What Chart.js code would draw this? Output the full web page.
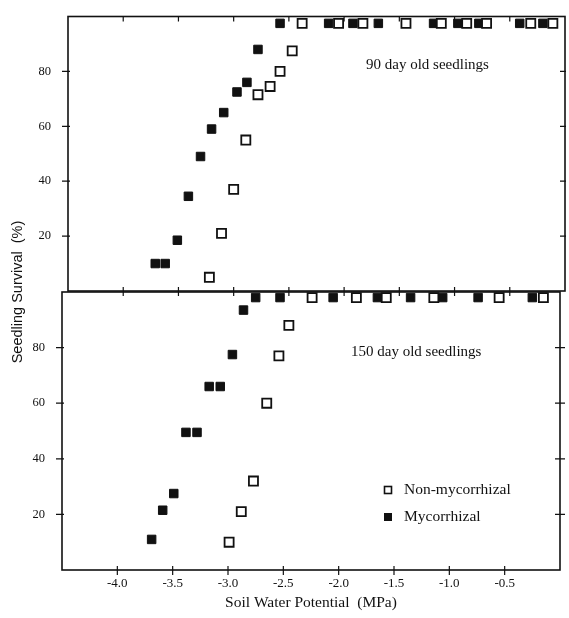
<!DOCTYPE html>
<html>
<head>
<meta charset="utf-8">
<script src="https://cdn.jsdelivr.net/npm/chart.js@4.4.1/dist/chart.umd.min.js"></script>
<style>
  body { margin: 0; background: #fff; }
  #wrap { position: relative; width: 569px; height: 618px; }
  canvas { position: absolute; left: 0; top: 0; }
</style>
</head>
<body>
<div id="wrap">
  <canvas id="top90" width="569" height="618"></canvas>
  <canvas id="bottom150" width="569" height="618"></canvas>
</div>
<script>
// axis ticks (both panels)
const xTicks = [-4.0, -3.5, -3.0, -2.5, -2.0, -1.5, -1.0, -0.5];
const yTicks = [20, 40, 60, 80];

// 90 day old seedlings
const open90X = [-3.22, -3.11, -3.00, -2.89, -2.78, -2.67, -2.58, -2.47, -2.38, -2.05, -1.83, -1.44, -1.12, -0.89, -0.71, -0.31, -0.11];
const open90Y = [5, 21, 37, 55, 71.5, 74.5, 80, 87.5, 97.5, 97.5, 97.5, 97.5, 97.5, 97.5, 97.5, 97.5, 97.5];
const fill90X = [-3.71, -3.62, -3.51, -3.41, -3.30, -3.20, -3.09, -2.97, -2.88, -2.78, -2.58, -2.14, -1.92, -1.69, -1.19, -0.97, -0.78, -0.41, -0.20];
const fill90Y = [10, 10, 18.5, 34.5, 49, 59, 65, 72.5, 76, 88, 97.5, 97.5, 97.5, 97.5, 97.5, 97.5, 97.5, 97.5, 97.5];

// 150 day old seedlings
const open150X = [-2.99, -2.88, -2.77, -2.65, -2.54, -2.45, -2.24, -1.84, -1.57, -1.14, -0.55, -0.15];
const open150Y = [10, 21, 32, 60, 77, 88, 98, 98, 98, 98, 98, 98];
const fill150X = [-3.69, -3.59, -3.49, -3.38, -3.28, -3.17, -3.07, -2.96, -2.86, -2.75, -2.53, -2.05, -1.65, -1.35, -1.06, -0.74, -0.25];
const fill150Y = [11, 21.5, 27.5, 49.5, 49.5, 66, 66, 77.5, 93.5, 98, 98, 98, 98, 98, 98, 98, 98];

const seriesNames = ['Non-mycorrhizal', 'Mycorrhizal'];

const ink = '#111';
const serif = '"Liberation Serif", "Times New Roman", serif';

function pts(xs, ys) {
    return xs.map((x, i) => ({ x: x, y: ys[i] }));
}

function openSet(xs, ys) {
    return {
        label: seriesNames[0],
        data: pts(xs, ys),
        pointStyle: 'rect',
        pointRadius: 6.4,
        pointBorderWidth: 1.8,
        pointBackgroundColor: '#fff',
        pointBorderColor: ink,
        showLine: false,
        clip: false
    };
}

function fillSet(xs, ys) {
    return {
        label: seriesNames[1],
        data: pts(xs, ys),
        pointStyle: 'rect',
        pointRadius: 6,
        pointBorderWidth: 1,
        pointBackgroundColor: ink,
        pointBorderColor: ink,
        showLine: false,
        clip: false
    };
}

// draws the box and the crossing tick marks
const framePlugin = {
    id: 'frame',
    beforeDatasetsDraw(chart, args, opts) {
        const ctx = chart.ctx;
        const a = chart.chartArea;
        const x = chart.scales.x, y = chart.scales.y;
        ctx.save();
        ctx.strokeStyle = ink;
        ctx.lineWidth = 1.6;
        ctx.strokeRect(a.left, a.top, a.right - a.left, a.bottom - a.top);
        ctx.lineWidth = 1.2;
        ctx.beginPath();
        yTicks.forEach(v => {
            const py = y.getPixelForValue(v);
            ctx.moveTo(a.left - 6, py); ctx.lineTo(a.left + 2, py);
            ctx.moveTo(a.right - 5, py); ctx.lineTo(a.right + opts.rightOut, py);
        });
        xTicks.forEach(v => {
            const px = x.getPixelForValue(v);
            ctx.moveTo(px, a.bottom - 4); ctx.lineTo(px, a.bottom + 5);
            if (opts.topTicks) { ctx.moveTo(px, a.top); ctx.lineTo(px, a.top + 5); }
        });
        ctx.stroke();
        ctx.restore();
    },
    afterDraw(chart, args, opts) {
        const ctx = chart.ctx;
        const a = chart.chartArea;
        ctx.save();
        ctx.fillStyle = ink;
        ctx.textBaseline = 'middle';
        ctx.textAlign = 'left';
        ctx.font = '15px ' + serif;
        ctx.fillText(opts.panel, a.left + opts.panelDx, a.top + opts.panelDy);
        if (opts.legend) {
            const lx = a.left + 326, ly = a.top + 198;
            ctx.font = '15.5px ' + serif;
            ctx.lineWidth = 1.6;
            ctx.strokeStyle = ink;
            ctx.fillStyle = '#fff';
            ctx.fillRect(lx - 3.5, ly - 3.5, 7, 7);
            ctx.strokeRect(lx - 3.5, ly - 3.5, 7, 7);
            ctx.fillStyle = ink;
            ctx.fillRect(lx - 4, ly + 27 - 4, 8, 8);
            ctx.fillText(seriesNames[0], lx + 16, ly);
            ctx.fillText(seriesNames[1], lx + 16, ly + 27);
        }
        if (opts.yTitle) {
            ctx.translate(18, a.top);
            ctx.rotate(-Math.PI / 2);
            ctx.textAlign = 'center';
            ctx.font = '14.5px "Liberation Sans", Arial, sans-serif';
            ctx.fillText('Seedling Survival  (%)', 0, 0);
        }
        ctx.restore();
    }
};

function makeChart(id, datasets, cfg) {
    return new Chart(document.getElementById(id), {
        type: 'scatter',
        data: { datasets: datasets },
        options: {
            responsive: false,
            animation: false,
            events: [],
            layout: { padding: cfg.padding, autoPadding: false },
            plugins: {
                legend: { display: false },
                tooltip: { enabled: false },
                frame: cfg.frame
            },
            scales: {
                x: {
                    min: -4.5, max: 0,
                    afterBuildTicks: s => { s.ticks = xTicks.map(v => ({ value: v })); },
                    afterFit: s => { s.height = cfg.xHeight; },
                    grid: { display: false },
                    border: { display: false },
                    ticks: {
                        display: cfg.xLabels,
                        padding: -2,
                        color: ink,
                        font: { family: serif, size: 13 },
                        callback: v => v.toFixed(1)
                    },
                    title: {
                        display: cfg.xLabels,
                        text: 'Soil Water Potential  (MPa)',
                        color: ink,
                        font: { family: serif, size: 15.5 },
                        padding: { top: 0, bottom: 6 }
                    }
                },
                y: {
                    min: 0, max: 100,
                    afterBuildTicks: s => { s.ticks = yTicks.map(v => ({ value: v })); },
                    afterFit: s => { s.width = cfg.yWidth; },
                    grid: { display: false },
                    border: { display: false },
                    ticks: {
                        padding: 9,
                        color: ink,
                        font: { family: serif, size: 12.5 }
                    }
                }
            }
        },
        plugins: [framePlugin]
    });
}

makeChart('top90', [openSet(open90X, open90Y), fillSet(fill90X, fill90Y)], {
    padding: { left: 0, right: 4, top: 13, bottom: 327 },
    xHeight: 0,
    yWidth: 68,
    xLabels: false,
    frame: { topTicks: true, rightOut: 1, panel: '90 day old seedlings', panelDx: 298, panelDy: 49 }
});

makeChart('bottom150', [openSet(open150X, open150Y), fillSet(fill150X, fill150Y)], {
    padding: { left: 0, right: 9, top: 292, bottom: 0 },
    xHeight: 48,
    yWidth: 62,
    xLabels: true,
    frame: { topTicks: false, rightOut: 5, panel: '150 day old seedlings', panelDx: 289, panelDy: 60, legend: true, yTitle: true }
});
</script>
</body>
</html>
